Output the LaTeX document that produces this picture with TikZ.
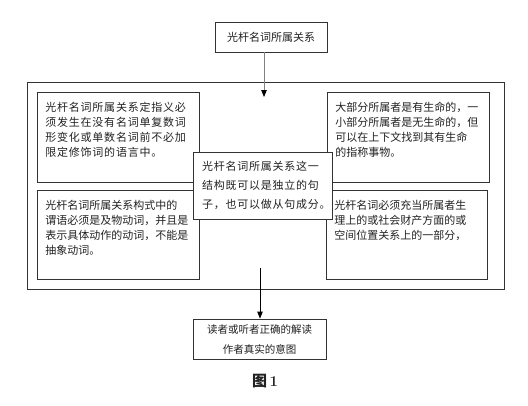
\documentclass[tikz,border=0pt]{standalone}
\usepackage{fontspec}
\usepackage{xcolor}
\usepackage{tikz}
\usetikzlibrary{arrows.meta,positioning}
\newfontfamily\cjk{Noto Sans CJK SC}
\newfontfamily\cjkwide{Noto Sans CJK SC}[LetterSpace=7]
\definecolor{ink}{HTML}{222222}
\definecolor{rule}{HTML}{333333}
\tikzset{
  titlebox/.style={
    rectangle, draw=rule, line width=0.8pt, fill=white,
    minimum width=112pt, minimum height=30pt,
    font=\cjk\fontsize{11}{15}\selectfont, text=ink, align=center
  },
  framebox/.style={
    rectangle, draw=rule, line width=1pt, inner sep=0pt
  },
  notebox/.style={
    rectangle, draw=rule, line width=0.8pt, fill=white,
    inner xsep=8pt, inner ysep=10pt, anchor=north west,
    font=\cjk\fontsize{11}{15}\selectfont, text=ink
  },
  midbox/.style={
    rectangle, draw=rule, line width=0.8pt, fill=white,
    minimum width=139pt, minimum height=67pt,
    text width=121pt, inner xsep=9pt, align=left,
    font=\cjkwide\fontsize{11}{19}\selectfont, text=ink
  },
  resultbox/.style={
    rectangle, draw=rule, line width=0.8pt, fill=white,
    minimum width=133pt, minimum height=40pt, inner sep=2pt,
    font=\cjk\fontsize{10.5}{20}\selectfont, text=ink, align=center
  },
  captiontext/.style={
    font=\cjk\bfseries\fontsize{15}{17}\selectfont, text=ink
  },
  feedarrow/.style={
    -{Triangle[length=7pt,width=5.5pt,color=black]}, line width=0.8pt, draw=#1
  },
  feedarrow/.default=black,
}

\begin{document}
\begin{tikzpicture}[x=1pt, y=-1pt]
  \useasboundingbox (0,0) rectangle (528,405);
  \node[titlebox] (title) at (271,37) {光杆名词所属关系};
  \node[framebox, minimum width=477pt, minimum height=207pt] (frame) at (265.5,185.5) {};
  \node[notebox] (lt) at (37,92) {\parbox[t][70pt][t]{146pt}{\cjkwide
    光杆名词所属关系定指义必\\须发生在没有名词单复数词\\形变化或单数名词前不必加\\限定修饰词的语言中。}};
  \node[notebox] (lb) at (37,190) {\parbox[t][69pt][t]{146pt}{
    光杆名词所属关系构式中的\\谓语必须是及物动词，并且是\\表示具体动作的动词，不能是\\抽象动词。}};
  \node[notebox] (rt) at (327,92) {\parbox[t][70pt][t]{146pt}{
    大部分所属者是有生命的，一\\小部分所属者是无生命的，但\\可以在上下文找到其有生命\\的指称事物。}};
  \node[notebox] (rb) at (326,190) {\parbox[t][69pt][t]{145pt}{
    光杆名词必须充当所属者生\\理上的或社会财产方面的或\\空间位置关系上的一部分，}};
  \node[midbox] (mid) at (262.5,185.5) {光杆名词所属关系这一\\结构既可以是独立的句\\子，也可以做从句成分。};
  \node[resultbox] (result) at (259.5,339) {读者或听者正确的解读\\作者真实的意图};
  \node[captiontext] (cap) at (265,381) {图\,{\rmfamily\bfseries 1}};
  \coordinate (tipin) at (264,97);
  \coordinate (tailout) at (260,268);
  \draw[feedarrow=gray] (title.south -| tipin) -- (tipin);
  \draw[feedarrow] (tailout) -- (result.north -| tailout);
\end{tikzpicture}
\end{document}
